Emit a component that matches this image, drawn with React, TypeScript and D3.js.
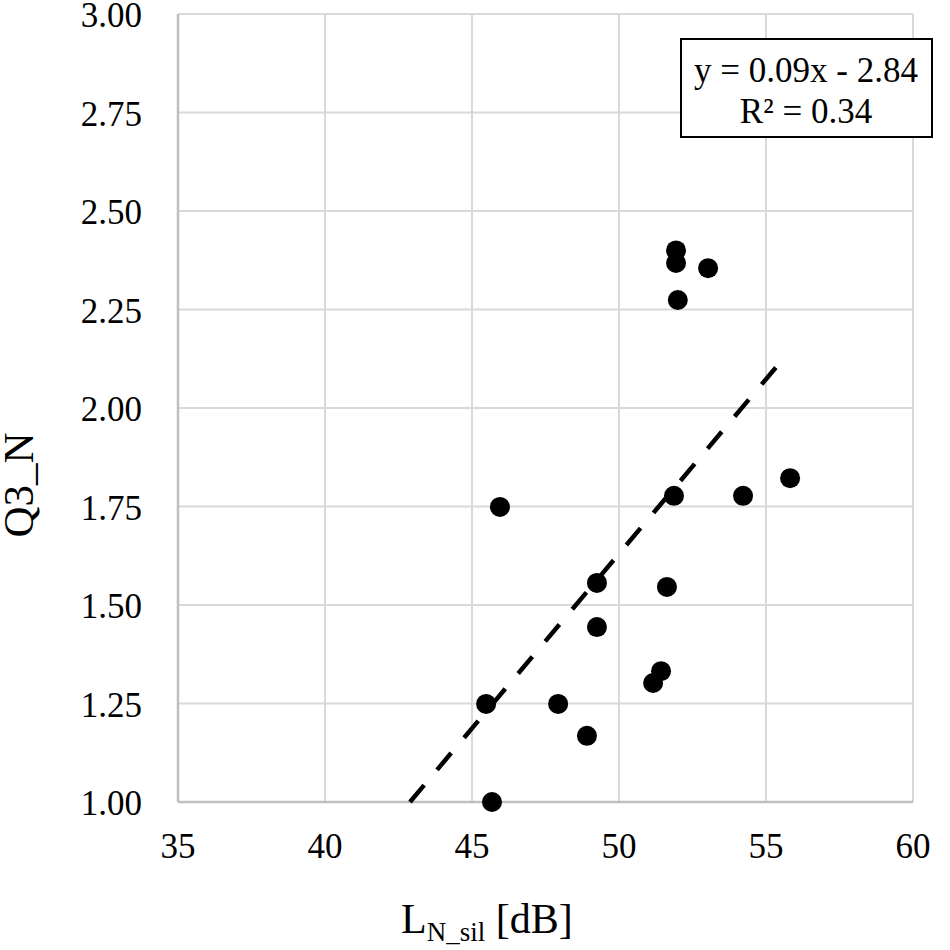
import React, { useEffect, useRef } from 'react'
import * as d3 from 'd3'

// scatter points
const lnSil = [51.94, 51.94, 53.03, 52.0, 45.95, 51.87, 54.22, 55.82, 49.25, 51.63, 49.25, 51.43, 51.16, 45.48, 47.93, 48.91, 45.68]
const q3n = [2.4, 2.368, 2.355, 2.274, 1.749, 1.777, 1.777, 1.822, 1.556, 1.546, 1.444, 1.332, 1.302, 1.249, 1.249, 1.168, 1.0]

// trendline ends (clipped at the bottom of the plot)
const trendX = [42.89, 55.44]
const trendY = [1.0, 2.112]

const xTicks = [35, 40, 45, 50, 55, 60]
const yTicks = [1.0, 1.25, 1.5, 1.75, 2.0, 2.25, 2.5, 2.75, 3.0]

const equationLines = ['y = 0.09x - 2.84', 'R² = 0.34']

const FONT = '"Liberation Serif", "Times New Roman", serif'

const App: React.FC = () => {
  const svgRef = useRef<SVGSVGElement>(null)

  useEffect(() => {
    if (!svgRef.current) return
    const svg = d3.select(svgRef.current)
    svg.selectAll('*').remove()

    const left = 178
    const right = 913
    const top = 14
    const bottom = 802

    const x = d3.scaleLinear().domain([35, 60]).range([left, right])
    const y = d3.scaleLinear().domain([1, 3]).range([bottom, top])

    // grid
    const grid = svg.append('g')
    grid.selectAll('line.v')
      .data(xTicks.slice(1))
      .enter().append('line')
      .attr('x1', d => x(d)).attr('x2', d => x(d))
      .attr('y1', top).attr('y2', bottom)
      .attr('stroke', '#d9d9d9').attr('stroke-width', 2)
    grid.selectAll('line.h')
      .data(yTicks.slice(1))
      .enter().append('line')
      .attr('x1', left).attr('x2', right)
      .attr('y1', d => y(d)).attr('y2', d => y(d))
      .attr('stroke', '#d9d9d9').attr('stroke-width', 2)

    // axis lines
    svg.append('line')
      .attr('x1', left).attr('x2', left).attr('y1', top).attr('y2', bottom)
      .attr('stroke', '#bfbfbf').attr('stroke-width', 2.5)
    svg.append('line')
      .attr('x1', left).attr('x2', right).attr('y1', bottom).attr('y2', bottom)
      .attr('stroke', '#bfbfbf').attr('stroke-width', 2.5)

    // tick labels
    svg.selectAll('text.yt')
      .data(yTicks)
      .enter().append('text')
      .attr('x', 142)
      .attr('y', d => y(d) + 13)
      .attr('text-anchor', 'end')
      .style('font-family', FONT)
      .style('font-size', '35px')
      .text(d => d3.format('.2f')(d))

    svg.selectAll('text.xt')
      .data(xTicks)
      .enter().append('text')
      .attr('x', d => x(d))
      .attr('y', 858)
      .attr('text-anchor', 'middle')
      .style('font-family', FONT)
      .style('font-size', '35px')
      .text(d => String(d))

    // trendline
    const line = d3.line<number>()
      .x((_, i) => x(trendX[i]))
      .y(d => y(d))
    svg.append('path')
      .datum(trendY)
      .attr('d', line)
      .attr('fill', 'none')
      .attr('stroke', '#000')
      .attr('stroke-width', 4.5)
      .attr('stroke-dasharray', '22 20')

    // points
    svg.selectAll('circle')
      .data(lnSil)
      .enter().append('circle')
      .attr('cx', d => x(d))
      .attr('cy', (_, i) => y(q3n[i]))
      .attr('r', 10)
      .attr('fill', '#000')

    // equation box
    svg.append('rect')
      .attr('x', 681).attr('y', 39)
      .attr('width', 251).attr('height', 98)
      .attr('fill', '#fff')
      .attr('stroke', '#000')
      .attr('stroke-width', 2)
    svg.selectAll('text.eq')
      .data(equationLines)
      .enter().append('text')
      .attr('x', 806)
      .attr('y', (_, i) => 82 + i * 41)
      .attr('text-anchor', 'middle')
      .style('font-family', FONT)
      .style('font-size', '35px')
      .text(d => d)

    // axis titles
    svg.append('text')
      .attr('transform', 'translate(33, 485) rotate(-90)')
      .attr('text-anchor', 'middle')
      .style('font-family', FONT)
      .style('font-size', '43px')
      .text('Q3_N')

    const xt = svg.append('text')
      .attr('x', 401)
      .attr('y', 933)
      .style('font-family', FONT)
      .style('font-size', '42px')
    xt.append('tspan').text('L')
    xt.append('tspan').attr('dy', 8).style('font-size', '27px').text('N_sil')
    xt.append('tspan').attr('dy', -8).text(' [dB]')
  }, [])

  return (
    <svg
      ref={svgRef}
      width={950}
      height={950}
      style={{ position: 'absolute', left: 0, top: 0, background: '#fff' }}
    />
  )
}

export default App
